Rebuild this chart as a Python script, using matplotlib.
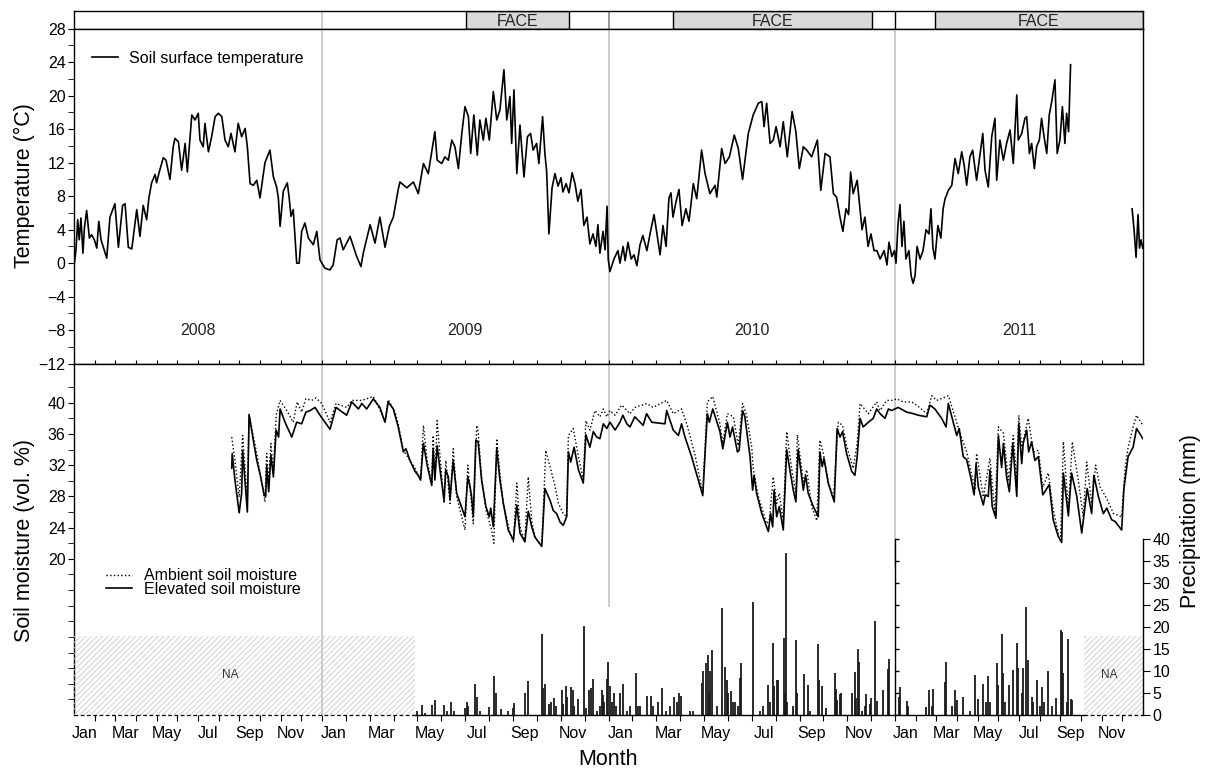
import numpy as np
import matplotlib.pyplot as plt
from matplotlib.patches import Rectangle
from matplotlib.ticker import NullFormatter

plt.rcParams['font.family'] = ['Liberation Sans', 'DejaVu Sans']
plt.rcParams['hatch.linewidth'] = 0.6
plt.rcParams['axes.linewidth'] = 1.0

nan = float('nan')

# ---------------- data (time = fraction of the year) ----------------
years = [2008, 2009, 2010, 2011]
month_names = ['Jan', 'Mar', 'May', 'Jul', 'Sep', 'Nov']

# soil surface temperature (deg C)
temp_2008 = [(.000, -0.4), (.008, 1.6), (.015, 5.2), (.021, 2.8), (.028, 5.4), (.036, 1.2), (.042, 4.2),
             (.051, 6.3), (.062, 3.0), (.071, 3.4), (.082, 2.8), (.092, 1.8), (.100, 5.0), (.109, 2.8),
             (.132, 0.6), (.145, 5.5), (.165, 7.1), (.179, 1.9), (.196, 6.9), (.206, 7.1), (.219, 1.9),
             (.233, 1.7), (.253, 6.4), (.266, 3.2), (.279, 6.9), (.293, 5.2), (.302, 7.8), (.313, 9.6),
             (.327, 10.6), (.333, 9.6), (.343, 10.8), (.360, 12.6), (.371, 12.3), (.387, 10.0), (.400, 13.9),
             (.407, 14.9), (.421, 14.5), (.434, 11.1), (.448, 14.3), (.457, 10.9), (.475, 17.7), (.488, 17.1),
             (.501, 17.9), (.508, 14.7), (.521, 13.9), (.528, 16.7), (.542, 13.3), (.555, 15.1), (.569, 17.5),
             (.582, 17.9), (.596, 17.5), (.609, 14.7), (.622, 13.9), (.633, 15.5), (.649, 13.3), (.662, 16.7),
             (.676, 15.1), (.690, 16.1), (.699, 13.9), (.710, 9.5), (.723, 9.3), (.737, 9.9), (.750, 7.8),
             (.770, 12.0), (.790, 13.5), (.804, 10.3), (.817, 9.1), (.824, 7.8), (.831, 4.4), (.844, 8.6),
             (.860, 9.6), (.867, 8.0), (.875, 5.6), (.884, 6.4), (.898, 0.0), (.908, 0.0), (.918, 3.8),
             (.931, 4.8), (.945, 3.0), (.965, 2.2), (.979, 3.8), (.992, 0.4)]
temp_2009 = [(.010, -0.6), (.028, -0.8), (.039, -0.2), (.053, 2.8), (.063, 3.0), (.074, 1.6), (.098, 3.2),
             (.121, 0.8), (.136, -0.4), (.144, 1.2), (.168, 4.6), (.185, 2.4), (.202, 5.5), (.220, 1.9),
             (.235, 4.4), (.249, 5.5), (.266, 8.8), (.272, 9.7), (.296, 9.0), (.319, 9.7), (.336, 8.3),
             (.354, 11.9), (.371, 10.7), (.383, 13.3), (.394, 15.7), (.402, 12.3), (.418, 11.9), (.429, 12.7),
             (.441, 12.3), (.453, 14.7), (.464, 13.9), (.476, 11.3), (.488, 15.5), (.499, 18.7), (.511, 17.5),
             (.519, 13.1), (.530, 17.7), (.542, 12.9), (.551, 17.1), (.563, 14.7), (.572, 17.3), (.584, 14.7),
             (.598, 20.5), (.610, 17.1), (.621, 18.3), (.635, 23.1), (.645, 17.1), (.656, 19.9), (.662, 14.3),
             (.670, 20.7), (.680, 10.7), (.691, 16.5), (.705, 10.3), (.717, 15.1), (.728, 15.5), (.737, 13.5),
             (.749, 14.3), (.757, 11.9), (.770, 17.5), (.778, 13.1), (.784, 11.0), (.792, 3.5), (.803, 9.0),
             (.813, 10.7), (.824, 9.2), (.834, 10.2), (.841, 8.5), (.852, 9.5), (.862, 8.4), (.873, 10.8),
             (.883, 9.5), (.893, 7.4), (.904, 8.8), (.914, 4.5), (.925, 5.5), (.935, 2.3), (.946, 3.5),
             (.956, 2.0), (.963, 4.6), (.970, 1.2), (.981, 3.8), (.988, 1.6), (.995, 6.8), (.999, 0.5)]
temp_2010 = [(.005, -1.0), (.019, 0.5), (.033, 1.5), (.040, 0.0), (.051, 2.0), (.058, 0.3), (.068, 2.5),
             (.079, 0.5), (.089, 1.0), (.099, -0.3), (.110, 2.2), (.120, 3.3), (.134, 1.5), (.145, 3.5),
             (.159, 5.8), (.169, 3.5), (.180, 1.0), (.190, 4.5), (.201, 2.0), (.211, 7.8), (.218, 8.4),
             (.225, 5.5), (.236, 7.4), (.246, 8.8), (.257, 4.5), (.270, 6.5), (.281, 5.0), (.296, 9.5),
             (.308, 7.7), (.325, 13.5), (.337, 10.7), (.354, 8.3), (.372, 9.3), (.378, 7.9), (.395, 13.7),
             (.407, 11.9), (.422, 12.7), (.439, 15.3), (.453, 13.7), (.468, 10.0), (.488, 15.5), (.505, 17.7),
             (.523, 19.1), (.535, 19.3), (.543, 16.3), (.552, 19.1), (.564, 14.3), (.575, 14.7), (.585, 16.3),
             (.599, 13.9), (.610, 16.9), (.624, 12.7), (.641, 18.1), (.654, 15.7), (.666, 11.3), (.680, 13.9),
             (.692, 13.5), (.709, 12.7), (.729, 14.7), (.741, 8.7), (.756, 13.1), (.773, 12.7), (.785, 8.3),
             (.796, 7.9), (.808, 5.5), (.818, 3.8), (.829, 6.5), (.838, 5.8), (.845, 10.9), (.854, 8.3),
             (.868, 9.9), (.875, 7.5), (.885, 4.0), (.895, 5.5), (.906, 2.0), (.916, 3.5), (.927, 1.5),
             (.937, 1.5), (.948, 0.5), (.962, 1.5), (.972, -0.2), (.979, 2.5), (.989, 0.8), (.998, 1.5)]
temp_2011 = [(.004, 0.0), (.012, 4.6), (.020, 7.0), (.028, 2.0), (.036, 5.0), (.044, 0.5), (.056, 1.5),
             (.065, -1.5), (.073, -2.4), (.081, -1.5), (.089, 2.0), (.101, 0.5), (.113, 1.5), (.125, 4.0),
             (.137, 3.5), (.145, 6.5), (.153, 1.8), (.161, 0.5), (.173, 4.5), (.185, 3.0), (.194, 6.5),
             (.202, 7.7), (.215, 8.7), (.229, 9.3), (.242, 12.5), (.255, 10.7), (.269, 13.3), (.279, 11.7),
             (.289, 9.3), (.302, 12.7), (.313, 13.5), (.329, 9.9), (.354, 15.5), (.363, 11.1), (.376, 9.1),
             (.390, 15.1), (.403, 17.3), (.410, 9.9), (.423, 14.7), (.437, 12.3), (.450, 14.3), (.464, 15.9),
             (.477, 11.9), (.491, 20.1), (.497, 14.7), (.511, 15.5), (.524, 17.3), (.531, 17.5), (.542, 13.1),
             (.551, 14.3), (.562, 11.3), (.571, 13.9), (.582, 14.7), (.591, 17.3), (.601, 15.1), (.612, 13.1),
             (.622, 17.7), (.632, 19.3), (.645, 21.9), (.654, 13.1), (.665, 14.7), (.675, 18.7), (.685, 14.3),
             (.692, 17.9), (.700, 15.7), (.708, 23.7), (.840, nan), (.956, 6.5), (.964, 4.0), (.972, 0.7),
             (.980, 5.8), (.986, 1.8), (.992, 2.8), (.999, 1.8)]

# soil moisture (vol. %), elevated CO2 plots (solid line)
elev_2008 = [(.636, 31.6), (.638, 33.5), (.649, 30.1), (.666, 25.9), (.676, 28.4), (.680, 33.9), (.699, 26.0),
             (.706, 38.5), (.723, 35.2), (.737, 32.6), (.750, 30.9), (.767, 28.2), (.773, 28.0), (.777, 32.0),
             (.785, 28.6), (.794, 33.3), (.804, 30.5), (.815, 36.5), (.825, 35.6), (.831, 39.2), (.851, 37.5),
             (.878, 35.6), (.898, 37.5), (.918, 37.3), (.935, 38.8), (.952, 39.0), (.972, 39.4), (.992, 38.4)]
elev_2009 = [(.028, 36.6), (.049, 39.4), (.086, 38.4), (.104, 40.1), (.127, 39.2), (.139, 39.9), (.156, 39.2),
             (.179, 40.5), (.202, 39.4), (.220, 37.5), (.231, 40.1), (.249, 39.2), (.266, 36.9), (.284, 33.7),
             (.293, 34.1), (.307, 32.6), (.325, 31.2), (.336, 30.7), (.344, 30.1), (.354, 34.8), (.367, 32.0),
             (.383, 29.4), (.388, 34.1), (.394, 30.1), (.402, 34.5), (.412, 31.4), (.426, 27.5), (.432, 31.4),
             (.441, 30.5), (.447, 27.7), (.458, 32.6), (.470, 28.4), (.499, 25.4), (.509, 30.5), (.517, 29.2),
             (.522, 28.0), (.528, 25.4), (.537, 35.2), (.545, 35.0), (.557, 30.1), (.572, 26.7), (.584, 25.4),
             (.589, 26.5), (.598, 24.1), (.610, 34.1), (.621, 30.1), (.633, 27.1), (.650, 23.7), (.668, 22.4),
             (.680, 26.9), (.691, 23.3), (.708, 22.2), (.720, 26.1), (.732, 24.1), (.743, 22.8), (.767, 21.6),
             (.778, 29.0), (.796, 27.5), (.807, 26.2), (.819, 25.8), (.831, 24.7), (.842, 24.3), (.854, 25.4),
             (.860, 33.7), (.868, 32.4), (.880, 34.3), (.895, 31.4), (.912, 29.7), (.921, 35.9), (.935, 34.3),
             (.947, 36.3), (.959, 35.6), (.970, 35.4), (.982, 37.3), (.994, 36.7)]
elev_2010 = [(.005, 37.5), (.023, 36.5), (.040, 37.5), (.050, 38.4), (.064, 37.3), (.075, 36.9), (.092, 38.2),
             (.121, 37.1), (.133, 38.6), (.151, 37.5), (.197, 37.3), (.203, 39.0), (.226, 36.5), (.244, 35.8),
             (.255, 37.3), (.267, 35.6), (.290, 33.1), (.329, 28.1), (.337, 33.5), (.345, 38.6), (.352, 37.5),
             (.364, 39.2), (.389, 36.3), (.399, 34.1), (.415, 37.5), (.424, 35.6), (.433, 36.9), (.450, 33.7),
             (.456, 33.9), (.468, 39.0), (.476, 38.2), (.494, 33.1), (.503, 28.8), (.508, 30.7), (.517, 28.4),
             (.535, 25.8), (.558, 23.5), (.566, 25.8), (.573, 24.1), (.578, 28.8), (.587, 25.4), (.596, 26.7),
             (.610, 23.7), (.622, 34.0), (.633, 31.4), (.645, 28.8), (.654, 27.3), (.662, 34.0), (.680, 28.8),
             (.688, 30.7), (.697, 28.4), (.715, 26.7), (.732, 25.4), (.738, 33.7), (.746, 31.8), (.752, 32.9),
             (.767, 29.7), (.788, 27.3), (.798, 36.7), (.808, 35.6), (.817, 36.3), (.831, 33.5), (.849, 31.2),
             (.860, 30.7), (.868, 33.1), (.878, 38.0), (.889, 36.9), (.907, 37.5), (.924, 38.0), (.936, 39.2),
             (.948, 38.6), (.965, 38.0), (.977, 39.2), (.988, 39.0)]
elev_2011 = [(.013, 39.4), (.047, 38.8), (.074, 38.6), (.094, 38.4), (.128, 38.2), (.141, 39.7), (.161, 39.2),
             (.188, 38.0), (.206, 36.9), (.215, 39.9), (.235, 37.5), (.249, 35.8), (.259, 36.7), (.275, 33.1),
             (.289, 32.7), (.305, 30.5), (.319, 28.2), (.327, 32.2), (.336, 29.2), (.356, 26.9), (.364, 28.2),
             (.376, 28.0), (.383, 31.4), (.392, 26.7), (.407, 25.2), (.417, 35.8), (.430, 31.7), (.437, 34.8),
             (.450, 30.5), (.461, 28.6), (.475, 34.8), (.491, 28.0), (.499, 37.3), (.511, 32.2), (.517, 34.8),
             (.531, 36.5), (.539, 33.7), (.551, 35.0), (.564, 32.6), (.578, 33.1), (.596, 28.2), (.622, 29.5),
             (.638, 25.0), (.658, 22.9), (.672, 22.1), (.679, 31.0), (.699, 25.5), (.712, 31.0), (.733, 28.0),
             (.753, 23.3), (.766, 26.7), (.775, 29.0), (.793, 25.8), (.802, 30.7), (.820, 28.0), (.840, 25.8),
             (.854, 26.5), (.874, 25.0), (.887, 24.8), (.914, 23.7), (.923, 29.0), (.940, 33.1), (.960, 34.3),
             (.974, 36.7), (.992, 35.8), (.999, 35.4)]

# soil moisture (vol. %), ambient plots (dotted line)
amb_2008 = [(.636, 35.6), (.649, 32.6), (.666, 27.9), (.680, 35.8), (.699, 27.5), (.706, 38.4), (.737, 33.5),
            (.770, 27.3), (.777, 33.5), (.785, 29.7), (.794, 34.8), (.804, 31.0), (.815, 38.4), (.831, 40.3),
            (.858, 39.0), (.884, 37.5), (.900, 40.1), (.918, 38.8), (.935, 40.5), (.958, 40.3), (.976, 40.6),
            (.999, 39.9)]
amb_2009 = [(.028, 37.5), (.049, 39.9), (.086, 39.4), (.104, 40.3), (.139, 40.3), (.179, 40.8), (.196, 39.6),
            (.220, 37.5), (.231, 40.4), (.255, 38.8), (.266, 37.3), (.284, 33.9), (.325, 31.6), (.344, 30.1),
            (.354, 37.1), (.367, 32.6), (.383, 29.6), (.388, 35.8), (.394, 30.5), (.402, 37.7), (.412, 33.1),
            (.426, 27.1), (.432, 32.6), (.447, 27.1), (.458, 34.1), (.470, 28.0), (.499, 23.7), (.509, 32.0),
            (.528, 24.5), (.540, 37.1), (.545, 36.3), (.557, 30.5), (.572, 26.3), (.592, 23.7), (.600, 22.0),
            (.610, 35.4), (.621, 30.9), (.633, 27.1), (.656, 23.3), (.668, 22.2), (.680, 29.7), (.691, 24.1),
            (.708, 22.2), (.720, 30.5), (.732, 24.9), (.743, 22.8), (.767, 21.6), (.781, 33.9), (.796, 31.8),
            (.813, 29.4), (.825, 27.1), (.842, 25.8), (.854, 25.4), (.860, 35.8), (.877, 36.7), (.895, 33.1),
            (.912, 30.1), (.921, 37.7), (.935, 36.5), (.953, 39.0), (.970, 38.2), (.982, 39.2), (.994, 38.2)]
amb_2010 = [(.005, 39.0), (.023, 38.4), (.046, 39.7), (.075, 38.6), (.092, 39.4), (.133, 39.9), (.156, 39.4),
            (.203, 40.3), (.226, 38.6), (.255, 39.2), (.273, 37.3), (.302, 33.3), (.329, 28.4), (.345, 40.1),
            (.364, 40.8), (.389, 37.3), (.399, 34.8), (.415, 38.6), (.436, 38.2), (.453, 34.5), (.468, 39.9),
            (.482, 38.4), (.500, 34.3), (.505, 31.6), (.523, 28.0), (.552, 24.5), (.561, 24.9), (.575, 30.5),
            (.587, 27.1), (.596, 28.4), (.610, 24.9), (.622, 36.3), (.639, 31.6), (.654, 28.4), (.659, 35.9),
            (.680, 29.9), (.692, 31.4), (.709, 26.7), (.727, 24.9), (.738, 35.2), (.750, 33.5), (.767, 29.9),
            (.785, 27.8), (.802, 37.5), (.817, 37.1), (.831, 34.5), (.854, 31.6), (.868, 34.8), (.878, 39.9),
            (.907, 38.6), (.936, 40.1), (.948, 39.0), (.971, 40.3), (.993, 40.3)]
amb_2011 = [(.007, 40.5), (.033, 40.1), (.067, 40.1), (.087, 39.7), (.128, 38.6), (.148, 40.9), (.168, 40.3),
            (.215, 40.9), (.242, 38.2), (.262, 36.1), (.289, 33.7), (.323, 28.9), (.329, 33.5), (.356, 27.9),
            (.383, 32.9), (.403, 25.8), (.417, 36.9), (.437, 36.1), (.457, 30.1), (.477, 35.8), (.491, 30.1),
            (.499, 38.4), (.511, 34.3), (.537, 38.0), (.558, 33.7), (.578, 33.9), (.596, 29.2), (.618, 31.0),
            (.638, 26.3), (.658, 23.3), (.668, 22.9), (.679, 35.0), (.699, 26.3), (.715, 35.0), (.739, 30.1),
            (.759, 25.4), (.773, 32.4), (.793, 27.1), (.809, 32.0), (.827, 29.2), (.854, 27.7), (.881, 25.8),
            (.914, 25.4), (.927, 31.4), (.940, 34.3), (.960, 36.9), (.974, 38.4), (.992, 37.5), (.999, 37.1)]

# daily precipitation (mm)
rain_2009 = [(.332, 1.0), (.348, 2.3), (.359, 0.5), (.383, 2.3), (.395, 3.4), (.426, 2.3), (.435, 1.0),
             (.450, 2.9), (.461, 1.0), (.499, 1.5), (.505, 2.9), (.511, 2.0), (.534, 7.0), (.540, 4.0),
             (.551, 1.0), (.583, 1.9), (.600, 8.8), (.606, 4.9), (.624, 1.3), (.648, 1.0), (.666, 1.7),
             (.671, 2.7), (.708, 4.9), (.718, 7.8), (.767, 18.5), (.772, 6.1), (.778, 7.0), (.792, 2.5),
             (.798, 3.0), (.809, 3.8), (.816, 2.0), (.837, 5.8), (.842, 2.5), (.851, 6.6), (.856, 4.2),
             (.868, 6.4), (.875, 5.7), (.879, 2.0), (.895, 3.6), (.914, 20.3), (.921, 1.5), (.933, 5.7),
             (.939, 6.2), (.947, 8.2), (.959, 1.0), (.970, 2.0), (.976, 5.7), (.981, 4.6), (.984, 3.0),
             (.994, 8.1), (.997, 12.1)]
rain_2010 = [(.005, 6.5), (.011, 3.0), (.019, 4.9), (.026, 2.0), (.040, 4.9), (.050, 7.1), (.064, 1.0),
             (.075, 2.0), (.095, 9.6), (.104, 2.0), (.110, 2.0), (.133, 4.4), (.147, 4.4), (.154, 2.0),
             (.174, 3.0), (.188, 6.1), (.200, 1.0), (.215, 2.0), (.230, 4.2), (.238, 3.0), (.246, 4.9),
             (.252, 4.3), (.284, 1.0), (.296, 1.0), (.325, 7.2), (.331, 10.0), (.339, 11.8), (.347, 13.7),
             (.352, 5.0), (.354, 10.0), (.361, 14.8), (.379, 2.0), (.397, 24.3), (.408, 11.0), (.413, 8.0),
             (.418, 5.0), (.428, 5.5), (.436, 3.0), (.442, 3.0), (.453, 2.0), (.459, 8.5), (.462, 11.8),
             (.503, 25.8), (.529, 1.0), (.541, 2.0), (.556, 6.8), (.564, 3.0), (.573, 16.3), (.579, 6.5),
             (.587, 8.0), (.593, 8.0), (.611, 17.6), (.616, 5.0), (.619, 37.0), (.623, 3.0), (.643, 2.0),
             (.654, 17.0), (.659, 5.0), (.682, 9.3), (.695, 6.8), (.703, 1.0), (.730, 16.1), (.735, 8.0),
             (.746, 6.6), (.759, 1.5), (.790, 9.6), (.794, 6.0), (.799, 3.4), (.808, 4.8), (.811, 4.9),
             (.849, 5.1), (.860, 9.7), (.863, 3.8), (.872, 15.1), (.875, 12.1), (.885, 1.0), (.895, 2.0),
             (.900, 4.8), (.913, 2.6), (.916, 3.8), (.929, 21.3), (.936, 3.3), (.959, 5.7), (.975, 10.4),
             (.980, 12.7)]
rain_2011 = [(.016, 4.2), (.020, 6.3), (.047, 3.2), (.052, 2.0), (.125, 1.9), (.136, 5.8), (.149, 2.0),
             (.154, 6.0), (.202, 7.6), (.207, 12.1), (.230, 2.0), (.242, 5.8), (.249, 3.4), (.275, 4.0),
             (.302, 1.0), (.323, 9.1), (.333, 3.6), (.356, 7.1), (.366, 3.0), (.376, 8.9), (.383, 3.0),
             (.410, 11.8), (.417, 6.8), (.430, 18.5), (.437, 9.5), (.444, 3.0), (.460, 6.8), (.475, 10.3),
             (.491, 16.5), (.495, 10.6), (.511, 4.9), (.517, 10.6), (.527, 24.7), (.537, 12.5), (.551, 4.2),
             (.558, 3.0), (.571, 8.0), (.585, 2.0), (.591, 6.3), (.601, 3.0), (.618, 10.0), (.632, 2.0),
             (.649, 3.8), (.668, 19.4), (.672, 19.0), (.679, 9.6), (.692, 3.0), (.699, 17.2), (.708, 3.6),
             (.715, 3.4)]

# FACE fumigation periods and periods without precipitation record
face_start = [2009.502, 2010.225, 2011.161]
face_end = [2009.862, 2010.919, 2012.0]
na_start = [2008.0, 2011.762]
na_end = [2009.325, 2012.0]
na_label_at = [2008.632, 2011.862]
na_height = 18

# ---------------- x scale: 2008 and 2011 were drawn narrower than 2009/2010 ----------------
year_width = [248, 286.5, 286.5, 248]
edges = np.concatenate([[0], np.cumsum(year_width)])


def to_x(t):
    return np.interp(np.asarray(t, dtype=float), years + [2012], edges)


def series(*chunks):
    tt, vv = [], []
    for yr, pts in chunks:
        for f, v in pts:
            tt.append(yr + f)
            vv.append(v)
    return to_x(tt), np.array(vv, dtype=float)


temp_x, temp_v = series((2008, temp_2008), (2009, temp_2009), (2010, temp_2010), (2011, temp_2011))
elev_x, elev_v = series((2008, elev_2008), (2009, elev_2009), (2010, elev_2010), (2011, elev_2011))
amb_x, amb_v = series((2008, amb_2008), (2009, amb_2009), (2010, amb_2010), (2011, amb_2011))
rain_x, rain_v = series((2009, rain_2009), (2010, rain_2010), (2011, rain_2011))

month_ticks = [to_x(y + m / 12) for y in years for m in range(1, 12)] + [to_x(y) for y in years[1:]]
label_ticks = [to_x(y + (m + 0.5) / 12) for y in years for m in range(0, 12, 2)]
label_text = month_names * len(years)

# ---------------- figure ----------------
fig = plt.figure(figsize=(12.09, 7.72), dpi=100)
L, W = 74 / 1209, 1069 / 1209
ax_f = fig.add_axes([L, 1 - 28.7 / 772, W, 17.4 / 772])
ax_t = fig.add_axes([L, 1 - 363.7 / 772, W, 335 / 772])
ax_m = fig.add_axes([L, 1 - 715 / 772, W, 351.3 / 772])
ax_p = ax_m.twinx()
sep_color = '#c4c4c4'

# FACE strip
ax_f.set_xlim(0, edges[-1])
ax_f.set_ylim(0, 1)
ax_f.set_xticks([])
ax_f.set_yticks([])
for s, e in zip(face_start, face_end):
    ax_f.axvspan(to_x(s), to_x(e), facecolor='#d9d9d9', edgecolor='black', lw=1.0)
    ax_f.text((to_x(s) + to_x(e)) / 2, 0.42, 'FACE', ha='center', va='center', fontsize=11.5, color='#222222')
ax_f.axvline(to_x(2009), color=sep_color, lw=1.2)
ax_f.axvline(to_x(2010), color='#888888', lw=1.2)
ax_f.axvline(to_x(2011), color='black', lw=1.0)

# temperature panel
for y in years[1:]:
    ax_t.axvline(to_x(y), color=sep_color, lw=1.2, zorder=0)
ax_t.plot(temp_x, temp_v, color='black', lw=1.2, label='Soil surface temperature')
ax_t.set_xlim(0, edges[-1])
ax_t.set_ylim(-12, 28)
ax_t.set_yticks(np.arange(-12, 29, 4))
ax_t.set_yticks(np.arange(-10, 28, 4), minor=True)
ax_t.tick_params(axis='y', which='both', direction='out', length=4, labelsize=11.5, pad=2)
ax_t.set_xticks(month_ticks)
ax_t.tick_params(axis='x', which='both', direction='in', length=3, labelbottom=False)
for y in years:
    ax_t.text(to_x(y + 0.5), -8, str(y), ha='center', va='center', fontsize=11.5, color='#222222')
ax_t.legend(loc='center left', bbox_to_anchor=(0.0168, 0.9125), frameon=False, fontsize=11.5,
            handlelength=1.6, handletextpad=0.75, borderpad=0, borderaxespad=0)
ax_t.set_ylabel('Temperature (°C)', fontsize=15.5)
ax_t.yaxis.set_label_coords(-0.0365, 0.533)

# soil moisture panel
ax_m.axvline(to_x(2009), color=sep_color, lw=1.2, zorder=0)
ax_m.axvline(to_x(2010), ymin=13.9 / 45, color=sep_color, lw=1.2, zorder=0)
ax_m.axvline(to_x(2011), ymin=19.1 / 45, color=sep_color, lw=1.2, zorder=0)
ax_m.plot(amb_x, amb_v, color='black', ls=':', lw=1.0, label='Ambient soil moisture')
ax_m.plot(elev_x, elev_v, color='black', lw=1.2, label='Elevated soil moisture')
ax_m.set_xlim(0, edges[-1])
ax_m.set_ylim(0, 45)
ax_m.set_yticks(np.arange(20, 41, 4))
ax_m.set_yticks([v for v in range(2, 43, 2) if v < 20 or v % 4 != 0], minor=True)
ax_m.tick_params(axis='y', which='both', direction='out', length=4, labelsize=11.5, pad=2)
ax_m.set_xticks(month_ticks)
ax_m.set_xticks(label_ticks, minor=True)
ax_m.set_xticklabels(label_text, minor=True)
ax_m.xaxis.set_major_formatter(NullFormatter())
ax_m.tick_params(axis='x', which='major', direction='out', length=4)
ax_m.tick_params(axis='x', which='minor', length=0, labelsize=11.5, pad=8)
ax_m.spines['right'].set_visible(False)
ax_m.spines['bottom'].set_visible(False)
ax_m.legend(loc='center left', bbox_to_anchor=(0.030, 0.377), frameon=False, fontsize=11.5,
            handlelength=1.6, handletextpad=0.75, borderpad=0, borderaxespad=0, labelspacing=-0.1)
ax_m.set_ylabel('Soil moisture (vol. %)', fontsize=15.5)
ax_m.yaxis.set_label_coords(-0.0365, 0.498)
ax_m.set_xlabel('Month', fontsize=15.5)
ax_m.xaxis.set_label_coords(0.5, -0.097)

# precipitation (right axis)
ax_p.vlines(rain_x, 0, rain_v, color='#1a1a1a', lw=1.3)
ax_p.set_ylim(0, 80)
ax_p.set_yticks(np.arange(0, 41, 5))
ax_p.tick_params(axis='y', direction='out', length=5, labelsize=11.5, pad=2)
for side in ['left', 'top', 'bottom']:
    ax_p.spines[side].set_visible(False)
ax_p.spines['right'].set_bounds(0, 40)
ax_p.set_ylabel('Precipitation (mm)', fontsize=15.5)
ax_p.yaxis.set_label_coords(1.0346, 0.552)
# axis line of the 2010 precipitation panel, left standing at the year boundary
ax_p.plot([to_x(2011)] * 9, np.arange(0, 41, 5), color='black', lw=1.0, marker=1, ms=3)

for s, e, lx in zip(na_start, na_end, na_label_at):
    ax_p.add_patch(Rectangle((to_x(s), 0), to_x(e) - to_x(s), na_height, fill=False,
                             hatch='//////', edgecolor='#c8c8c8', lw=0))
    ax_p.text(to_x(lx), na_height / 2, 'NA', ha='center', va='center', fontsize=8.5, color='#333333')
    ax_p.plot([to_x(s), to_x(e)], [0, 0], color='black', lw=0.9, ls=(0, (3, 2)), clip_on=False)
ax_p.plot([to_x(na_end[0]), to_x(na_start[1])], [0, 0], color='black', lw=1.0, clip_on=False)

fig.savefig('out.png', dpi=100)
